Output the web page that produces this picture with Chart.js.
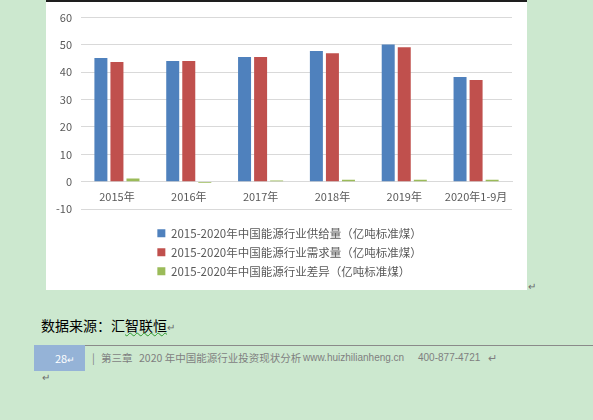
<!DOCTYPE html>
<html>
<head>
<meta charset="utf-8">
<script src="https://cdn.jsdelivr.net/npm/chart.js@4"></script>
<style>
  body { margin: 0; width: 593px; height: 420px; background: #cce8cf; position: relative; overflow: hidden;
         font-family: "Noto Sans CJK SC", "Liberation Sans", sans-serif; }
  #topline { position: absolute; left: 46px; top: 0; width: 481px; height: 2px; background: #1e1e1e; }
  #box { position: absolute; left: 46px; top: 2px; width: 481px; height: 288px; background: #fff; }
  #box canvas { display: block; }
  .mark { position: absolute; color: #6b6b6b; font-size: 10px; line-height: 10px; }
  #source { position: absolute; left: 41px; top: 316px; font-size: 14px; line-height: 18px; color: #000; white-space: nowrap; }
  #source .wavy { text-decoration: underline wavy #2e9a2e; text-decoration-thickness: 1px; }
  #rule { position: absolute; left: 85px; top: 345px; width: 508px; height: 1px; background: #8a8a8a; }
  #page { position: absolute; left: 34px; top: 345px; width: 51px; height: 26px; background: #95b3d7; }
  #pageno { position: absolute; left: 55px; top: 351px; color: #fff; font-size: 11px; line-height: 14px; }
  .foot { position: absolute; top: 351px; color: #7f7f7f; font-size: 10.5px; line-height: 14px; white-space: nowrap; }
  .lat { font-family: "Liberation Sans", sans-serif; font-size: 10px; }
</style>
</head>
<body>
<div id="topline"></div>
<div id="box"><canvas id="energyChart" width="481" height="288"></canvas></div>
<div class="mark" style="left:528px;top:281px;">↵</div>
<div id="source">数据来源：汇<span class="wavy">智联恒</span><span style="color:#6b6b6b;font-size:10px;">↵</span></div>
<div id="rule"></div>
<div id="page"></div>
<div id="pageno">28<span style="font-size:9px;">↵</span></div>
<div class="foot" style="left:92px;">|</div>
<div class="foot" style="left:101px;">第三章</div>
<div class="foot" style="left:139px;">2020 年中国能源行业投资现状分析</div>
<div class="foot lat" style="left:303px;">www.huizhilianheng.cn</div>
<div class="foot lat" style="left:418px;">400-877-4721</div>
<div class="foot" style="left:488px;">↵</div>
<div class="mark" style="left:42px;top:372px;">↵</div>
<script>
const years = ["2015年", "2016年", "2017年", "2018年", "2019年", "2020年1-9月"];
const supply = [45.2, 44.1, 45.6, 47.8, 50.2, 38.3];
const demand = [43.8, 44.1, 45.6, 47.0, 49.2, 37.2];
const gap = [1.2, -0.5, 0.4, 0.7, 0.7, 0.7];
const seriesNames = [
  "2015-2020年中国能源行业供给量（亿吨标准煤）",
  "2015-2020年中国能源行业需求量（亿吨标准煤）",
  "2015-2020年中国能源行业差异（亿吨标准煤）"
];

const font = "'Noto Sans CJK SC', 'Liberation Sans', sans-serif";

// keep legend rows left-aligned as one block and nudge it under the plot
const legendTweak = {
  id: "legendTweak",
  afterLayout(chart) {
    const lg = chart.legend;
    const w = Math.max(...lg.lineWidths);
    lg.lineWidths = lg.lineWidths.map(() => w);
    lg.top += 11;
    lg.bottom += 11;
    lg.left += 10;
    lg.right += 10;
  }
};

const ctx = document.getElementById("energyChart").getContext("2d");
new Chart(ctx, {
  type: "bar",
  data: {
    labels: years,
    datasets: [
      { label: seriesNames[0], data: supply, backgroundColor: "#4f81bd" },
      { label: seriesNames[1], data: demand, backgroundColor: "#c0504d" },
      { label: seriesNames[2], data: gap, backgroundColor: "#9bbb59" }
    ]
  },
  options: {
    responsive: false,
    animation: false,
    categoryPercentage: 0.67,
    barPercentage: 0.81,
    layout: { padding: { left: 1, right: 15, top: 15, bottom: 14 } },
    scales: {
      x: {
        position: { y: 0 },
        grid: { display: false },
        border: { color: "#d9d9d9" },
        ticks: { color: "#595959", font: { family: font, size: 11 }, padding: 1, maxRotation: 0 }
      },
      y: {
        min: -10,
        max: 60,
        grid: { color: "#d9d9d9", drawTicks: false },
        border: { display: false },
        ticks: { stepSize: 10, color: "#595959", font: { family: font, size: 11 }, padding: 9 }
      }
    },
    plugins: {
      tooltip: { enabled: false },
      legend: {
        position: "bottom",
        labels: {
          boxWidth: 8,
          boxHeight: 8,
          padding: 7.5,
          color: "#595959",
          font: { family: font, size: 11.5 }
        }
      }
    }
  },
  plugins: [legendTweak]
});
</script>
</body>
</html>
